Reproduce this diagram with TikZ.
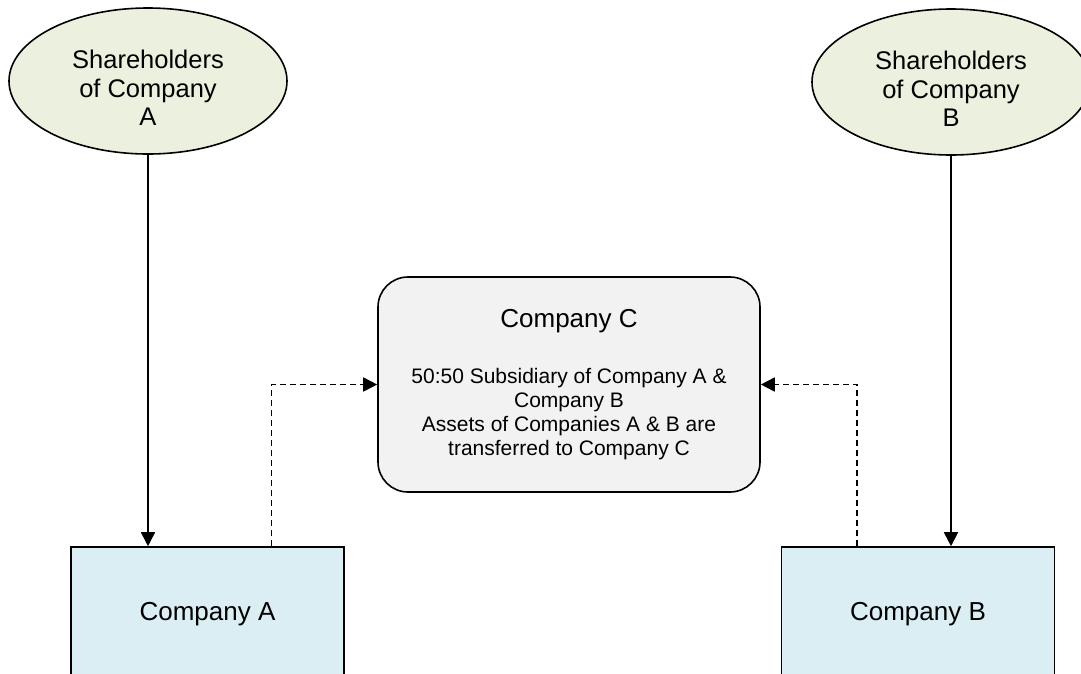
\documentclass[tikz,border=0pt]{standalone}
\usepackage{fontspec}
\setmainfont{Liberation Sans}
\usepackage{xcolor}
\definecolor{holderfill}{HTML}{EBF1DE}
\definecolor{companyfill}{HTML}{DAEEF3}
\definecolor{jointfill}{HTML}{F2F2F2}
\usetikzlibrary{
  arrows.meta,
  positioning,
  shapes.geometric
}
\newcommand{\topgap}{\rule{0pt}{32pt}}

\begin{document}
\begin{tikzpicture}[
  x=1pt, y=-1pt,
  holder/.style={ellipse, draw, fill=holderfill, line width=1.6pt, minimum width=278pt, minimum height=146pt, inner sep=0pt, align=center, font=\fontsize{25.5}{28.5}\selectfont},
  company/.style={rectangle, draw, fill=companyfill, line width=1.6pt, minimum width=273pt, minimum height=134pt, font=\fontsize{26}{30}\selectfont},
  joint/.style={rectangle, rounded corners=30pt, draw, fill=jointfill, line width=1.6pt, minimum width=382pt, minimum height=215pt, align=center, font=\fontsize{21}{24}\selectfont},
  arr/.style={-{Triangle[length=14pt, width=14pt]}, line width=1.7pt},
  darr/.style={arr, dash pattern=on 6pt off 4pt},
]
\useasboundingbox (0,0) rectangle (1081,673);

% Shareholders
\node[holder] (shA) at (148,81) {\topgap Shareholders\\of Company\\A};
\node[holder] (shB) at (951,82) {\topgap Shareholders\\of Company\\B};

% Joint subsidiary
\node[joint] (coC) at (569,384.5) {{\fontsize{26}{30}\selectfont Company C}\\[32pt]
  50:50 Subsidiary of Company A \&\\Company B\\Assets of Companies A \& B are\\transferred to Company C};

% Companies
\node[company] (coA) at (207.5,614) {Company A};
\node[company] (coB) at (918,614) {Company B};

\draw[arr] (shA.south) -- (shA.south |- coA.north);
\draw[arr] (shB.south) -- (shB.south |- coB.north);
\draw[darr] ([xshift=64pt]coA.north) |- (coC.west);
\draw[darr] ([xshift=-61pt]coB.north) |- (coC.east);

\end{tikzpicture}
\end{document}
